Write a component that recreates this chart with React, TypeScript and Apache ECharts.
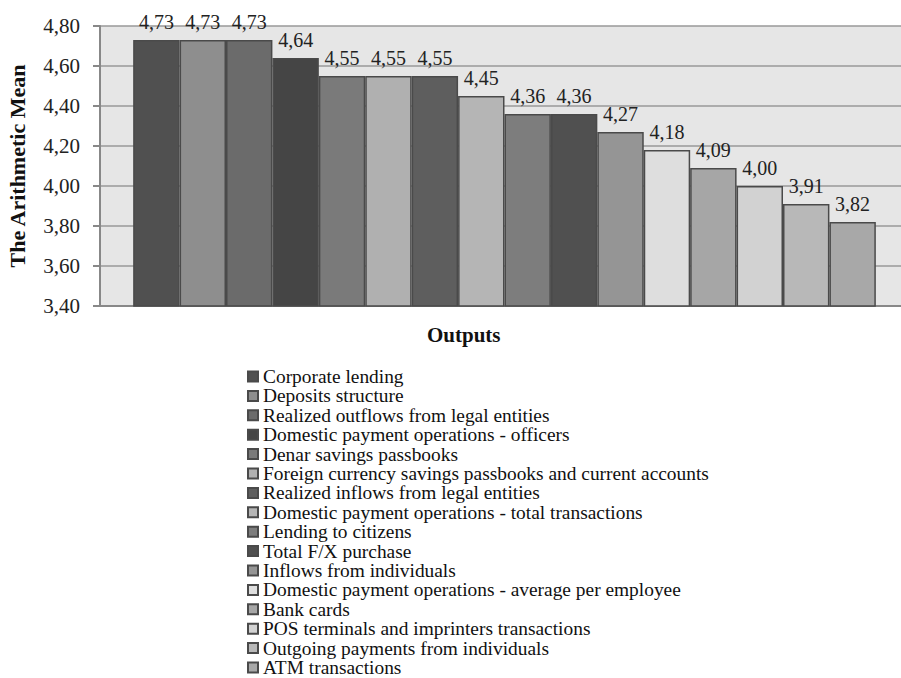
import React, { useEffect, useRef } from "react";
import * as echarts from "echarts";

const categories = [
  "Corporate lending",
  "Deposits structure",
  "Realized outflows from legal entities",
  "Domestic payment operations - officers",
  "Denar savings passbooks",
  "Foreign currency savings passbooks and current accounts",
  "Realized inflows from legal entities",
  "Domestic payment operations - total transactions",
  "Lending to citizens",
  "Total F/X purchase",
  "Inflows from individuals",
  "Domestic payment operations - average per employee",
  "Bank cards",
  "POS terminals and imprinters transactions",
  "Outgoing payments from individuals",
  "ATM transactions",
];

const values = [4.73, 4.73, 4.73, 4.64, 4.55, 4.55, 4.55, 4.45, 4.36, 4.36, 4.27, 4.18, 4.09, 4.0, 3.91, 3.82];

const colors = [
  "#505050", "#8e8e8e", "#6b6b6b", "#454545", "#7a7a7a", "#b0b0b0", "#5e5e5e", "#b5b5b5",
  "#7d7d7d", "#505050", "#959595", "#dedede", "#a6a6a6", "#d2d2d2", "#b8b8b8", "#a8a8a8",
];

const yTicks = { min: 3.4, max: 4.8, interval: 0.2 };

const FONT = "'Liberation Serif', 'Times New Roman', serif";
const fmt = (v: number) => v.toFixed(2).replace(".", ",");

export default function App() {
  const ref = useRef<HTMLDivElement>(null);
  useEffect(() => {
    if (!ref.current) return;
    const chart = echarts.init(ref.current, undefined, { renderer: "svg" });
    chart.setOption({
      animation: false,
      backgroundColor: "#ffffff",
      textStyle: { fontFamily: FONT },
      grid: {
        left: 100,
        top: 26,
        width: 809,
        height: 280,
        show: true,
        backgroundColor: "#e6e6e6",
        borderWidth: 0,
        outerBoundsMode: "none",
      },
      legend: {
        orient: "vertical",
        left: 247,
        top: 367,
        height: 330,
        padding: 0,
        itemWidth: 10,
        itemHeight: 10,
        itemGap: 0.4,
        icon: "rect",
        data: categories,
        textStyle: { fontFamily: FONT, fontSize: 19.4, color: "#111" },
      },
      graphic: [
        {
          type: "text",
          left: 427,
          top: 324,
          style: { text: "Outputs", fontFamily: FONT, fontSize: 21, fontWeight: "bold", fill: "#111" },
        },
      ],
      xAxis: {
        type: "category",
        data: [""],
        axisLine: { show: true, lineStyle: { color: "#888", width: 2 } },
        axisTick: { show: false },
        axisLabel: { show: false },
      },
      yAxis: {
        type: "value",
        min: yTicks.min,
        max: yTicks.max,
        interval: yTicks.interval,
        name: "The Arithmetic Mean",
        nameLocation: "middle",
        nameGap: 72,
        nameRotate: 90,
        nameTextStyle: { fontFamily: FONT, fontSize: 22, fontWeight: "bold", color: "#111" },
        axisLine: { show: true, lineStyle: { color: "#888", width: 2 } },
        axisTick: { show: true, inside: false, length: 7, lineStyle: { color: "#888", width: 2 } },
        axisLabel: {
          formatter: (v: number) => fmt(v),
          fontFamily: FONT,
          fontSize: 21,
          color: "#222",
          margin: 20,
        },
        splitLine: { show: true, lineStyle: { color: "#999", width: 1.5 } },
      },
      series: categories.map((name, i) => ({
        name,
        type: "bar",
        data: [values[i]],
        barGap: "0%",
        barCategoryGap: "8.2%",
        itemStyle: { color: colors[i], borderColor: "#4a4a4a", borderWidth: 1.5 },
        label: {
          show: true,
          position: "top",
          distance: 8,
          formatter: (p: any) => fmt(p.value),
          fontFamily: FONT,
          fontSize: 20,
          color: "#222",
        },
      })),
    });
    return () => chart.dispose();
  }, []);
  return <div ref={ref} style={{ width: 901, height: 678, position: "absolute", left: 0, top: 0 }} />;
}
